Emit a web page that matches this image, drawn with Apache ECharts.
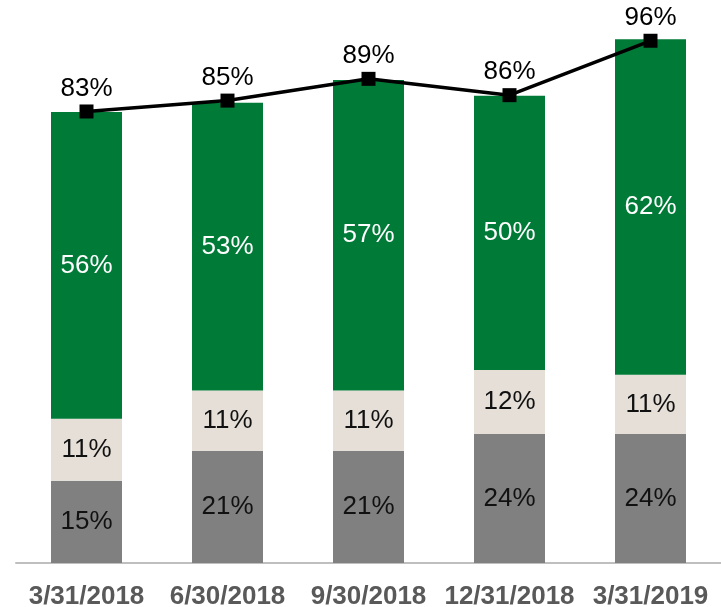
<!DOCTYPE html>
<html>
<head>
<meta charset="utf-8">
<script src="https://cdn.jsdelivr.net/npm/echarts@6/dist/echarts.min.js"></script>
<style>
	html, body { margin: 0; padding: 0; background: #fff; }
	#chart { width: 721px; height: 607px; }
</style>
</head>
<body>
<div id="chart"></div>
<script>
var dates = ['3/31/2018', '6/30/2018', '9/30/2018', '12/31/2018', '3/31/2019'];
// segment values (labels show them rounded)
var grayData = [15.1, 20.6, 20.6, 23.7, 23.7];
var beigeData = [11.4, 11.1, 11.1, 11.8, 10.9];
var greenData = [56.4, 52.9, 57.1, 50.4, 61.7];
var totalData = [83, 85, 89, 86, 96];

var font = 'Liberation Sans, Arial, sans-serif';

function pct(p) {
	return Math.round(p.value) + '%';
}

var myChart = echarts.init(document.getElementById('chart'));
var option = {
	animation: false,
	textStyle: { fontFamily: font },
	grid: {
		left: 16,
		right: 0,
		top: 19,
		bottom: 44,
		outerBoundsMode: 'none'
	},
	xAxis: {
		type: 'category',
		data: dates,
		axisLine: {
			lineStyle: { color: '#bfbfbf', width: 2 }
		},
		axisTick: { show: false },
		axisLabel: {
			interval: 0,
			hideOverlap: false,
			margin: 21,
			color: '#595959',
			fontWeight: 'bold',
			fontSize: 26,
			fontFamily: font
		}
	},
	yAxis: {
		type: 'value',
		min: 0,
		max: 100,
		show: false
	},
	series: [{
		name: 'gray',
		type: 'bar',
		stack: 'total',
		barWidth: 71,
		data: grayData,
		itemStyle: { color: '#808080' },
		label: {
			show: true,
			position: 'inside',
			formatter: pct,
			color: '#111',
			fontSize: 26,
			fontFamily: font
		}
	}, {
		name: 'beige',
		type: 'bar',
		stack: 'total',
		data: beigeData,
		itemStyle: { color: '#e5dfd8' },
		label: {
			show: true,
			position: 'inside',
			formatter: pct,
			color: '#111',
			fontSize: 26,
			fontFamily: font
		}
	}, {
		name: 'green',
		type: 'bar',
		stack: 'total',
		data: greenData,
		itemStyle: { color: '#007a37' },
		label: {
			show: true,
			position: 'inside',
			formatter: pct,
			color: '#fff',
			fontSize: 26,
			fontFamily: font
		}
	}, {
		name: 'total',
		type: 'line',
		data: totalData,
		symbol: 'rect',
		symbolSize: 14,
		lineStyle: { color: '#000', width: 3.5 },
		itemStyle: { color: '#000' },
		label: {
			show: true,
			position: 'top',
			distance: 3,
			formatter: pct,
			color: '#000',
			fontSize: 26,
			fontFamily: font
		},
		z: 5
	}]
};
myChart.setOption(option);
</script>
</body>
</html>
